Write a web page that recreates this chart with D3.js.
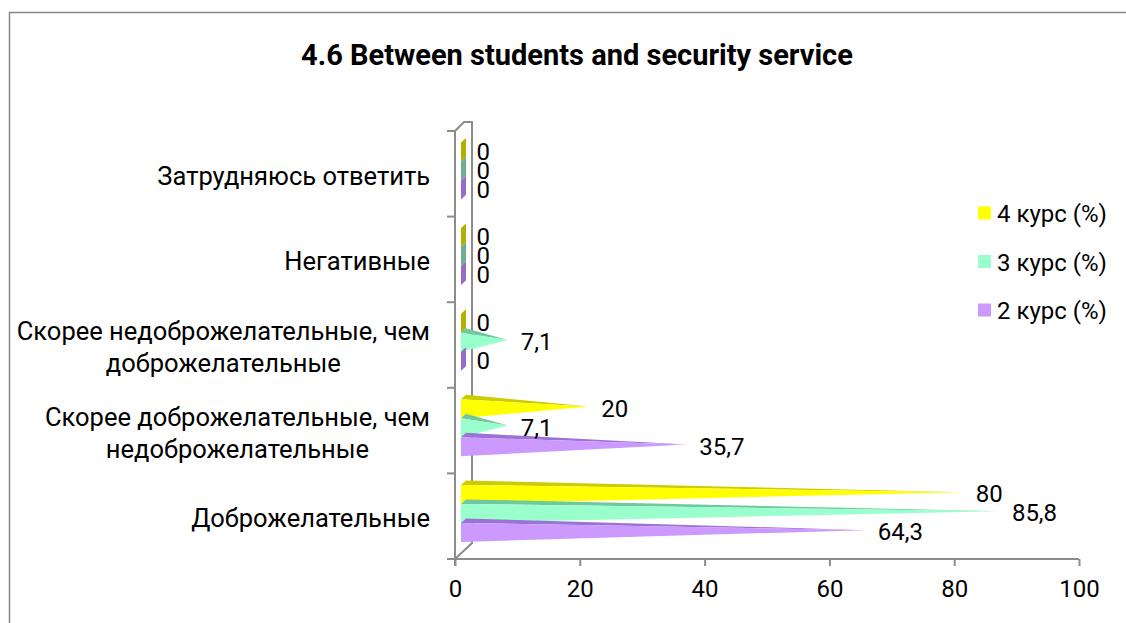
<!DOCTYPE html>
<html>
<head>
<meta charset="utf-8">
<script src="https://cdn.jsdelivr.net/npm/d3@7"></script>
<style>
  body { margin: 0; background: #fff; }
  svg text { font-family: Roboto, "Noto Sans", sans-serif; fill: #000; }
</style>
</head>
<body>
<div id="chart"></div>
<script>
// categories from bottom to top, as in the chart
const categories = [
  'Доброжелательные',
  'Скорее доброжелательные, чем недоброжелательные',
  'Скорее недоброжелательные, чем доброжелательные',
  'Негативные',
  'Затрудняюсь ответить'
];
const categoryLines = [
  ['Доброжелательные'],
  ['Скорее доброжелательные, чем', 'недоброжелательные'],
  ['Скорее недоброжелательные, чем', 'доброжелательные'],
  ['Негативные'],
  ['Затрудняюсь ответить']
];
const seriesNames = ['4 курс (%)', '3 курс (%)', '2 курс (%)'];
const course4 = [80, 20, 0, 0, 0];
const course3 = [85.8, 7.1, 7.1, 0, 0];
const course2 = [64.3, 35.7, 0, 0, 0];
const xTicks = [0, 20, 40, 60, 80, 100];
const valueLabels = v => String(v).replace('.', ',');

const width = 1126;
const height = 623;
const fontSize = 24;

const colors = {
  '4 курс (%)': {front: '#ffff00', top: '#cccc00', base: '#b3b000'},
  '3 курс (%)': {front: '#99ffcc', top: '#70c8a0', base: '#6fb090'},
  '2 курс (%)': {front: '#cc99ff', top: '#9d72d6', base: '#9a6cc8'}
};

let seriesValues = [course4, course3, course2];

let svg = d3.select('#chart').append('svg')
  .attr('width', width)
  .attr('height', height)

// outer chart border (runs off the picture right and bottom)
svg.append('rect')
  .attr('x', 9.5)
  .attr('y', 12.5)
  .attr('width', 1300)
  .attr('height', 800)
  .attr('fill', 'none')
  .attr('stroke', '#868686')
  .attr('stroke-width', 1.5)

svg.append('text')
  .attr('x', 577)
  .attr('y', 55)
  .attr('text-anchor', 'middle')
  .attr('dominant-baseline', 'central')
  .style('font-weight', 'bold')
  .style('font-size', '29px')
  .text('4.6 Between students and security service')

let scaleX = d3.scaleLinear()
  .domain([0, 100])
  .range([455, 1079])

let scaleY = d3.scaleBand()
  .domain(categories.slice().reverse())
  .range([131, 559])

let scaleSeries = d3.scaleBand()
  .domain(seriesNames)
  .range([11.5, 68.5])

const axisColor = '#8c8c8c';
const bandTops = categories.map(c => scaleY(c)).concat([559]);

// side wall outline
let wall = svg.append('g')
  .attr('fill', 'none')
  .attr('stroke', axisColor)
  .attr('stroke-width', 2)

wall.append('path')
  .attr('d', 'M455,131 L464,122 L472,122 L472,543 L455,559')

// category axis (front edge)
wall.append('line')
  .attr('x1', 455).attr('x2', 455)
  .attr('y1', 131).attr('y2', 566)

wall.selectAll('line.cat-tick').data(bandTops).enter().append('line')
  .classed('cat-tick', true)
  .attr('x1', 447).attr('x2', 455)
  .attr('y1', d => d).attr('y2', d => d)

// value axis
let xAxis = d3.axisBottom(scaleX)
  .tickValues(xTicks)
  .tickSize(7)
  .tickPadding(14)
  .tickFormat(d3.format('d'))

let axisG = svg.append('g')
  .attr('transform', 'translate(0, 559)')
  .call(xAxis)

axisG.select('.domain')
  .attr('d', 'M447,0H1079')
  .attr('stroke', axisColor)
  .attr('stroke-width', 2)
axisG.selectAll('.tick line')
  .attr('stroke', axisColor)
  .attr('stroke-width', 2)
axisG.selectAll('.tick text')
  .style('font-size', fontSize + 'px')
  .style('font-family', 'Roboto, "Noto Sans", sans-serif')
  .attr('fill', '#000')

// category labels
let catLabels = svg.append('g').selectAll('text.cat').data(categories).enter().append('text')
  .classed('cat', true)
  .style('font-size', '25.5px')
  .attr('text-anchor', 'middle')

catLabels.each(function (d, i) {
  let lines = categoryLines[i];
  let el = d3.select(this);
  let cy = scaleY(d) + scaleY.bandwidth() / 2 + 2;
  let lineH = 32;
  lines.forEach((line, j) => {
    el.append('tspan')
      .attr('x', 0)
      .attr('y', cy + (j - (lines.length - 1) / 2) * lineH)
      .attr('dominant-baseline', 'central')
      .text(line)
  })
})

// right-align each block at x=430 while keeping lines centred on each other
catLabels.each(function () {
  let el = d3.select(this);
  let w = this.getBBox().width;
  el.selectAll('tspan').attr('x', 430 - w / 2);
})

// bars: flattened pyramids
const depthX = 5;
const depthY = 4.5;
const baseX = scaleX(0) + 6;

let points = [];
categories.forEach((c, ci) => {
  seriesNames.forEach((s, si) => {
    let v = seriesValues[si][ci];
    let top = scaleY(c) + scaleSeries(s);
    let bot = top + scaleSeries.bandwidth();
    points.push({cat: c, series: s, value: v, top: top, bot: bot});
  })
})

let bars = svg.append('g').selectAll('g.bar').data(points).enter().append('g')
  .classed('bar', true)

bars.each(function (d) {
  let g = d3.select(this);
  let col = colors[d.series];
  if (d.value === 0) {
    g.append('path')
      .attr('d', `M${baseX},${d.top} L${baseX + depthX},${d.top - depthY} L${baseX + depthX},${d.bot - depthY} L${baseX},${d.bot} Z`)
      .attr('fill', col.base)
    return;
  }
  let ax = scaleX(d.value) + 6 + depthX / 2;
  let ay = (d.top + d.bot) / 2 - depthY / 2;
  d.ax = ax; d.ay = ay;
  g.append('path')
    .attr('d', `M${baseX},${d.top} L${baseX + depthX},${d.top - depthY} L${ax},${ay} Z`)
    .attr('fill', col.top)
  g.append('path')
    .attr('d', `M${baseX},${d.top} L${baseX},${d.bot} L${ax},${ay} Z`)
    .attr('fill', col.front)
})

// data labels
svg.append('g').selectAll('text.val').data(points).enter().append('text')
  .classed('val', true)
  .attr('x', d => (d.value === 0 ? baseX + depthX / 2 : d.ax) + 13)
  .attr('y', d => (d.value === 0 ? (d.top + d.bot) / 2 - depthY / 2 : d.ay) + 2)
  .attr('dominant-baseline', 'central')
  .style('font-size', fontSize + 'px')
  .text(d => valueLabels(d.value))

// legend
let legend = svg.append('g').selectAll('g.legend').data(seriesNames).enter().append('g')
  .classed('legend', true)
  .attr('transform', (d, i) => `translate(978, ${213 + i * 48.5})`)

legend.append('rect')
  .attr('x', 0)
  .attr('y', -6.5)
  .attr('width', 13)
  .attr('height', 13)
  .attr('fill', d => colors[d].front)

legend.append('text')
  .attr('x', 19)
  .attr('y', 1)
  .attr('dominant-baseline', 'central')
  .style('font-size', fontSize + 'px')
  .text(d => d)
</script>
</body>
</html>
